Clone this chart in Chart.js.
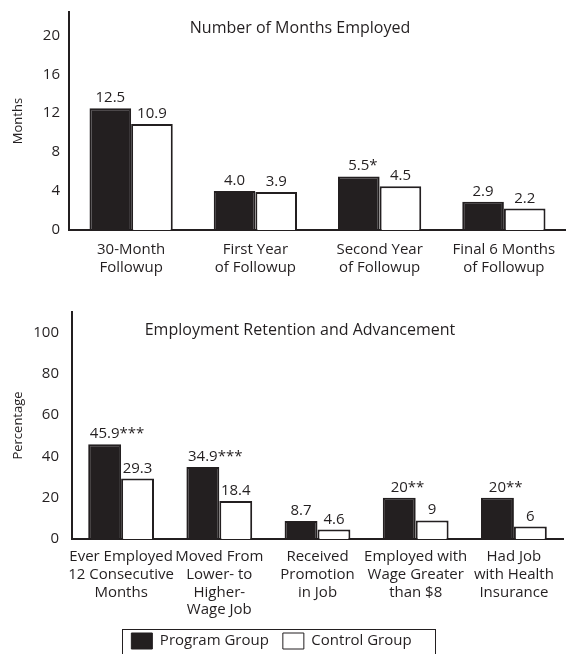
<!DOCTYPE html>
<html><head><meta charset="utf-8">
<script src="https://cdn.jsdelivr.net/npm/chart.js@4/dist/chart.umd.min.js"></script>
<style>
html,body{margin:0;padding:0;background:#fff;overflow:hidden;}
#wrap{position:relative;width:566px;height:654px;overflow:hidden;}
canvas{position:absolute;left:0;}
</style></head><body>
<div id="wrap">
<canvas id="c1" width="566" height="290" style="top:0"></canvas>
<canvas id="c2" width="566" height="369" style="top:290px"></canvas>
</div>
<script>
// ---- data: top panel ----
const topTitle = 'Number of Months Employed';
const topAxisTitle = 'Months';
const topCategories = [['30-Month','Followup'],['First Year','of Followup'],['Second Year','of Followup'],['Final 6 Months','of Followup']];
const topProgram = [12.5, 4.0, 5.5, 2.9];
const topControl = [10.9, 3.9, 4.5, 2.2];
const topProgramStars = ['', '', '*', ''];
const topControlStars = ['', '', '', ''];
const topTicks = [0, 4, 8, 12, 16, 20];

// ---- data: bottom panel ----
const botTitle = 'Employment Retention and Advancement';
const botAxisTitle = 'Percentage';
const botCategories = [['Ever Employed','12 Consecutive','Months'],['Moved From','Lower- to','Higher-','Wage Job'],['Received','Promotion','in Job'],['Employed with','Wage Greater','than $8'],['Had Job','with Health','Insurance']];
const botProgram = [45.9, 34.9, 8.7, 20, 20];
const botControl = [29.3, 18.4, 4.6, 9, 6];
const botProgramStars = ['***', '***', '', '**', '**'];
const botControlStars = ['', '', '', '', ''];
const botTicks = [0, 20, 40, 60, 80, 100];

const seriesNames = ['Program Group', 'Control Group'];

const INK = '#231f20';
const FAMILY = '"Open Sans", "Noto Sans", sans-serif';

const valueLabels = {
  id: 'valueLabels',
  afterDatasetsDraw(chart, args, opts) {
    const ctx = chart.ctx;
    ctx.save();
    ctx.font = '15px ' + FAMILY;
    ctx.fillStyle = INK;
    ctx.textBaseline = 'alphabetic';
    ctx.textAlign = 'left';
    chart.data.datasets.forEach((ds, di) => {
      const meta = chart.getDatasetMeta(di);
      meta.data.forEach((bar, i) => {
        const num = opts.format(ds.data[i]);
        const w = ctx.measureText(num).width;
        ctx.fillText(num + (ds.stars[i] || ''), bar.x - w / 2, bar.y - 6);
      });
    });
    ctx.restore();
  }
};

const innerTitle = {
  id: 'innerTitle',
  afterDraw(chart, args, opts) {
    const ctx = chart.ctx;
    ctx.save();
    ctx.font = '16px ' + FAMILY;
    ctx.fillStyle = INK;
    ctx.textAlign = 'center';
    ctx.textBaseline = 'middle';
    ctx.fillText(opts.text, opts.x, opts.y);
    ctx.restore();
  }
};

// shift the legend a little to the left, as in the original, and frame it
const legendFrame = {
  id: 'legendFrame',
  afterLayout(chart, args, opts) {
    const lg = chart.legend;
    if (lg) { lg.left -= opts.shift; lg.right -= opts.shift; }
  },
  afterDraw(chart) {
    const lg = chart.legend;
    if (!lg || !lg.legendHitBoxes || !lg.legendHitBoxes.length) return;
    const hb = lg.legendHitBoxes;
    const last = hb[hb.length - 1];
    const l = Math.round(hb[0].left - 9), r = Math.round(last.left + last.width + 23), t = Math.round(hb[0].top - 4);
    const ctx = chart.ctx;
    ctx.save();
    ctx.strokeStyle = INK;
    ctx.lineWidth = 1;
    ctx.strokeRect(l + 0.5, t + 0.5, r - l, 60);
    ctx.restore();
  }
};

function makeDatasets(prog, ctrl, progStars, ctrlStars) {
  return [
    { label: seriesNames[0], data: prog, stars: progStars, backgroundColor: INK, borderColor: INK, borderWidth: 2,
      categoryPercentage: 0.67, barPercentage: 1.0 },
    { label: seriesNames[1], data: ctrl, stars: ctrlStars, backgroundColor: '#ffffff', borderColor: INK, borderWidth: 2,
      categoryPercentage: 0.67, barPercentage: 1.0 }
  ];
}

function axisX(height, lineHeight, pad) {
  return {
    grid: { display: false, drawTicks: false },
    border: { display: true, color: INK, width: 2 },
    ticks: { font: { family: FAMILY, size: 15, lineHeight: lineHeight }, color: INK, padding: pad, autoSkip: false, maxRotation: 0, minRotation: 0 },
    afterFit(s) { s.height = height; s.paddingLeft = 0; s.paddingRight = 0; }
  };
}
function axisY(max, ticks, width, pad, title) {
  return {
    min: 0, max: max,
    grid: { display: false, drawTicks: false },
    border: { display: true, color: INK, width: 2 },
    ticks: { font: { family: FAMILY, size: 15 }, color: INK, padding: pad },
    afterBuildTicks(s) { s.ticks = ticks.map(v => ({ value: v })); },
    afterFit(s) { s.width = width; s.paddingTop = 0; s.paddingBottom = 0; },
    title: { display: true, text: title, color: INK, font: { family: FAMILY, size: 13 }, padding: { top: 10, bottom: 0 } }
  };
}

new Chart(document.getElementById('c1'), {
  type: 'bar',
  data: { labels: topCategories, datasets: makeDatasets(topProgram, topControl, topProgramStars, topControlStars) },
  plugins: [valueLabels, innerTitle],
  options: {
    responsive: false, animation: false, devicePixelRatio: 1,
    layout: { padding: { top: 12, right: 0, left: 0, bottom: 0 } },
    plugins: {
      legend: { display: false }, tooltip: { enabled: false },
      valueLabels: { format: v => v.toFixed(1) },
      innerTitle: { text: topTitle, x: 300, y: 28 }
    },
    scales: { x: axisX(60, 1.25, 10), y: axisY(22.4, topTicks, 69, 9, topAxisTitle) }
  }
});

new Chart(document.getElementById('c2'), {
  type: 'bar',
  data: { labels: botCategories, datasets: makeDatasets(botProgram, botControl, botProgramStars, botControlStars) },
  plugins: [valueLabels, innerTitle, legendFrame],
  options: {
    responsive: false, animation: false, devicePixelRatio: 1,
    layout: { padding: { top: 22, right: 3, left: 0, bottom: 0 } },
    plugins: {
      legend: {
        display: true, position: 'bottom',
        labels: {
          boxWidth: 21, boxHeight: 16, padding: 14, color: INK,
          font: { family: FAMILY, size: 15 },
          generateLabels(chart) {
            const items = Chart.defaults.plugins.legend.labels.generateLabels(chart);
            items.forEach(it => { it.lineWidth = 1; });
            return items;
          }
        }
      },
      legendFrame: { shift: 10 },
      tooltip: { enabled: false },
      valueLabels: { format: v => String(v) },
      innerTitle: { text: botTitle, x: 300, y: 40 }
    },
    scales: { x: axisX(80, 1.18, 9), y: axisY(110, botTicks, 72, 13, botAxisTitle) }
  }
});
</script>
</body></html>
